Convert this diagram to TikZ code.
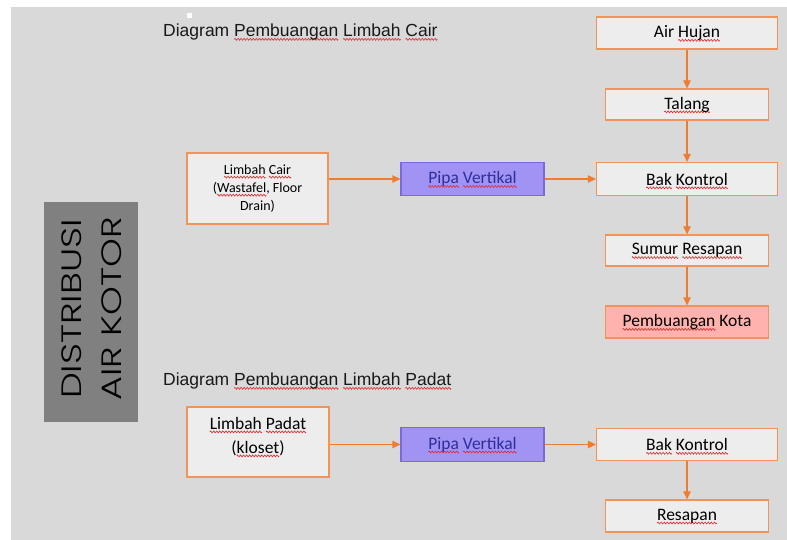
\documentclass[tikz,border=0pt]{standalone}
\usepackage{fontspec}
\usepackage{xcolor}
\usepackage{tikz}
\usetikzlibrary{arrows.meta}
\usetikzlibrary{positioning}
\setmainfont{Liberation Sans}
\newfontfamily\calibri{Carlito}
\newfontfamily\gothic{Poppins Light}

\definecolor{paper}{HTML}{D9D9D9}
\definecolor{boxfill}{HTML}{EDEDED}
\definecolor{boxline}{HTML}{F2945A}
\definecolor{arrowline}{HTML}{ED7D31}
\definecolor{pipefill}{HTML}{A193F4}
\definecolor{pipeline}{HTML}{7B6AD6}
\definecolor{pipetext}{HTML}{2E2E9C}
\definecolor{kotafill}{HTML}{FFB2AE}
\definecolor{tagfill}{HTML}{808080}
\definecolor{squig}{HTML}{E8242B}

% red wavy underline (spell check marks)
\newsavebox{\wavebox}
\newlength{\sqwd}
\newcommand{\sq}[1]{\settowidth{\sqwd}{#1}\rlap{\raisebox{-4pt}[0pt][0pt]{\hbox to \sqwd{\xleaders\copy\wavebox\hfill}}}#1}

\tikzset{>=latex}
\tikzstyle{box} = [rectangle, draw=boxline, fill=boxfill, line width=1.3pt, inner sep=0, minimum height=32, align=center, font=\calibri\fontsize{17.5}{21}\selectfont]
\tikzstyle{wide} = [box, minimum width=181]
\tikzstyle{narrow} = [box, minimum width=163]
\tikzstyle{pipe} = [box, fill=pipefill, draw=pipeline, minimum width=143, minimum height=33, text=pipetext]
\tikzstyle{flow} = [-{Triangle[length=8pt, width=7.5pt]}, draw=arrowline, line width=1.3pt]
\tikzstyle{heading} = [anchor=west, inner sep=0, text=black!90, font=\fontsize{17.5}{21}\selectfont]

\begin{document}
\sbox{\wavebox}{\begin{pgfpicture}
  \pgfpathrectangle{\pgfpoint{0pt}{-1.2pt}}{\pgfpoint{3pt}{2.4pt}}
  \pgfusepath{use as bounding box}
  \pgfsetstrokecolor{squig}\pgfsetlinewidth{.6pt}
  \pgfpathmoveto{\pgfpoint{0pt}{0pt}}
  \pgfpathcurveto{\pgfpoint{.5pt}{1.3pt}}{\pgfpoint{1pt}{1.3pt}}{\pgfpoint{1.5pt}{0pt}}
  \pgfpathcurveto{\pgfpoint{2pt}{-1.3pt}}{\pgfpoint{2.5pt}{-1.3pt}}{\pgfpoint{3pt}{0pt}}
  \pgfusepath{stroke}
\end{pgfpicture}}
\begin{tikzpicture}[x=1pt, y=-1pt]
\useasboundingbox (0,0) rectangle (787,540);
\fill [white] (0,0) rectangle (787,540);
\fill [paper] (11,7) rectangle (787,540);
\fill [white] (187,13) rectangle (192,18);

% side tag
\node [rectangle, fill=tagfill, minimum width=94, minimum height=220, inner sep=0] (tag) at (91,312) {};
\node [rotate=90, xscale=1.31, align=center, inner sep=0, font=\gothic\fontsize{28}{40}\selectfont] (tagtext) at (92,309) {DISTRIBUSI\\AIR KOTOR};

% liquid waste
\node [heading] (title1) at (163,32) {Diagram \sq{Pembuangan} \sq{Limbah} \sq{Cair}};
\node [wide] (AH) at (687,33) {Air \sq{Hujan}};
\node [narrow, minimum height=31] (T) at (687,104.5) {\sq{Talang}};
\node [wide, minimum height=33] (B) at (687,179) {\sq{Bak} \sq{Kontrol}};
\node [narrow, minimum height=31] (S) at (687,250.5) {\sq{Sumur} \sq{Resapan}};
\node [narrow, fill=kotafill] (K) at (687,322) {\sq{Pembuangan} Kota};
\node [box, minimum width=141, minimum height=71, font=\calibri\fontsize{14}{18}\selectfont] (LC) at (257.5,188.5) {\sq{Limbah} \sq{Cair}\\(\sq{Wastafel}, Floor\\Drain)};
\node [pipe] (P1) at (472.5,179) {\sq{Pipa} \sq{Vertikal}};

\draw [flow] (AH) -- (T);
\draw [flow] (T) -- (B);
\draw [flow] (B) -- (S);
\draw [flow] (S) -- (K);
\draw [flow] (LC.east |- P1.west) -- (P1.west);
\draw [flow] (P1) -- (B);

% solid waste
\node [heading] (title2) at (163,381) {Diagram \sq{Pembuangan} \sq{Limbah} \sq{Padat}};
\node [box, minimum width=142, minimum height=70, font=\calibri\fontsize{17.5}{24}\selectfont] (LP) at (258,442) {\sq{Limbah} \sq{Padat}\\(\sq{kloset})\\[-10pt]\mbox{}};
\node [pipe, minimum height=34] (P2) at (472.5,444.5) {\sq{Pipa} \sq{Vertikal}};
\node [wide] (B2) at (687,444.5) {\sq{Bak} \sq{Kontrol}};
\node [narrow] (R) at (687,516) {\sq{Resapan}};

\draw [flow] (LP.east |- P2.west) -- (P2.west);
\draw [flow] (P2) -- (B2);
\draw [flow] (B2) -- (R);
\end{tikzpicture}
\end{document}
